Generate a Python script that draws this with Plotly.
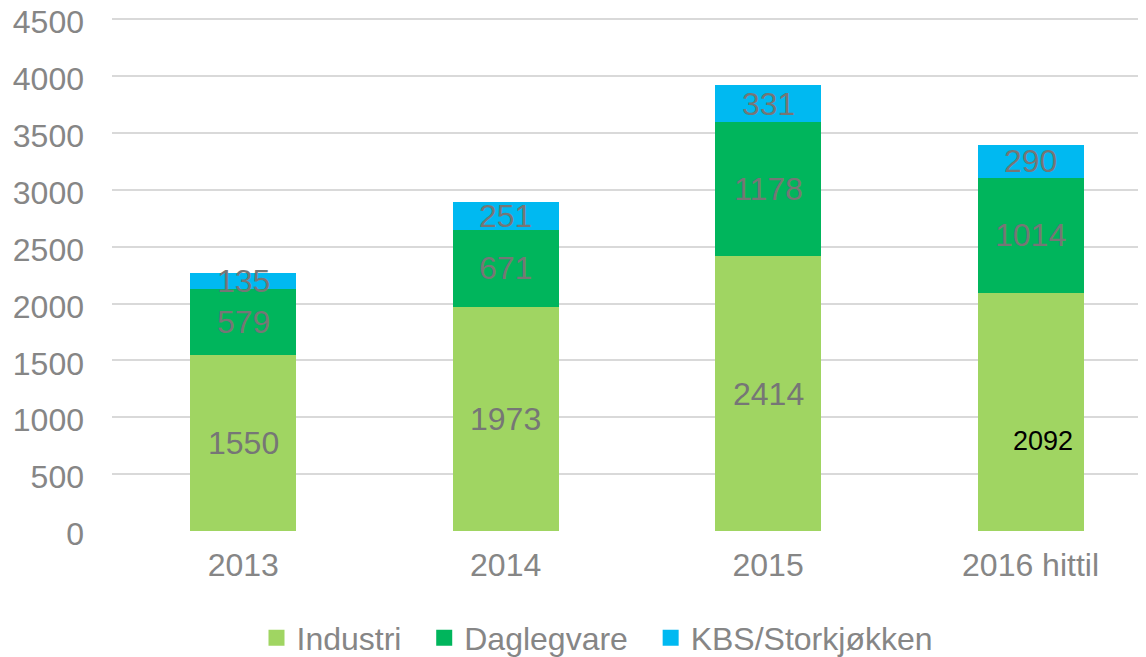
import plotly.graph_objects as go

categories = ["2013", "2014", "2015", "2016 hittil"]
industri = [1550, 1973, 2414, 2092]
daglegvare = [579, 671, 1178, 1014]
kbs = [135, 251, 331, 290]

series = [
    ("Industri", industri, "#A0D562"),
    ("Daglegvare", daglegvare, "#00B55C"),
    ("KBS/Storkjøkken", kbs, "#00B9F1"),
]

FONT = "Liberation Sans, Arial, sans-serif"
GRAY = "#868686"
LABEL_GRAY = "#767676"

fig = go.Figure()
for name, vals, color in series:
    fig.add_trace(go.Bar(
        x=categories, y=vals, name=name, showlegend=False,
        marker=dict(color=color, line=dict(width=0)),
    ))

# legend entries with larger square swatches
legend_names = ["Industri  ", "Daglegvare  ", "KBS/Storkjøkken"]
for (name, vals, color), lname in zip(series, legend_names):
    fig.add_trace(go.Scatter(
        x=[None], y=[None], mode="markers", name=lname,
        marker=dict(symbol="square", size=16, color=color, line=dict(width=0)),
        hoverinfo="skip",
    ))

# data labels centered in segments
annotations = []
base = [0] * len(categories)
for si, (name, vals, color) in enumerate(series):
    for i, v in enumerate(vals):
        mid = base[i] + v / 2
        ann = dict(x=i, y=mid, text=str(v), showarrow=False,
                   font=dict(family=FONT, size=32, color=LABEL_GRAY),
                   xref="x", yref="y")
        if si == 0 and i == 3:
            ann.update(font=dict(family=FONT, size=27, color="#000000"),
                       xshift=12, yshift=-29)
        annotations.append(ann)
        base[i] += v

# page body has an 8px default margin; compensate
fig.update_layout(
    width=1146, height=657,
    margin=dict(l=104, r=8, t=10, b=134, autoexpand=False),
    paper_bgcolor="white", plot_bgcolor="white",
    barmode="stack", bargap=0.596,
    font=dict(family=FONT, size=32, color=GRAY),
    annotations=annotations,
    legend=dict(orientation="h", x=0.5144, xanchor="center", xref="container",
                y=0.041, yanchor="middle", yref="container",
                font=dict(family=FONT, size=32, color=GRAY),
                itemsizing="trace", traceorder="normal"),
    xaxis=dict(type="category", range=[-0.5, 3.44], showgrid=False, showline=False, ticks="",
               automargin=False, ticklabelstandoff=12,
               tickfont=dict(family=FONT, size=32, color=GRAY)),
    yaxis=dict(range=[0, 4510], tickvals=list(range(0, 4501, 500)), showgrid=True,
               gridcolor="#D9D9D9", gridwidth=2, zeroline=False, showline=False, ticks="",
               automargin=False, ticklabelstandoff=27, ticklabeloverflow="allow",
               ticklabelshift=3,
               tickfont=dict(family=FONT, size=32, color=GRAY)),
)

fig.write_html("out.html")
